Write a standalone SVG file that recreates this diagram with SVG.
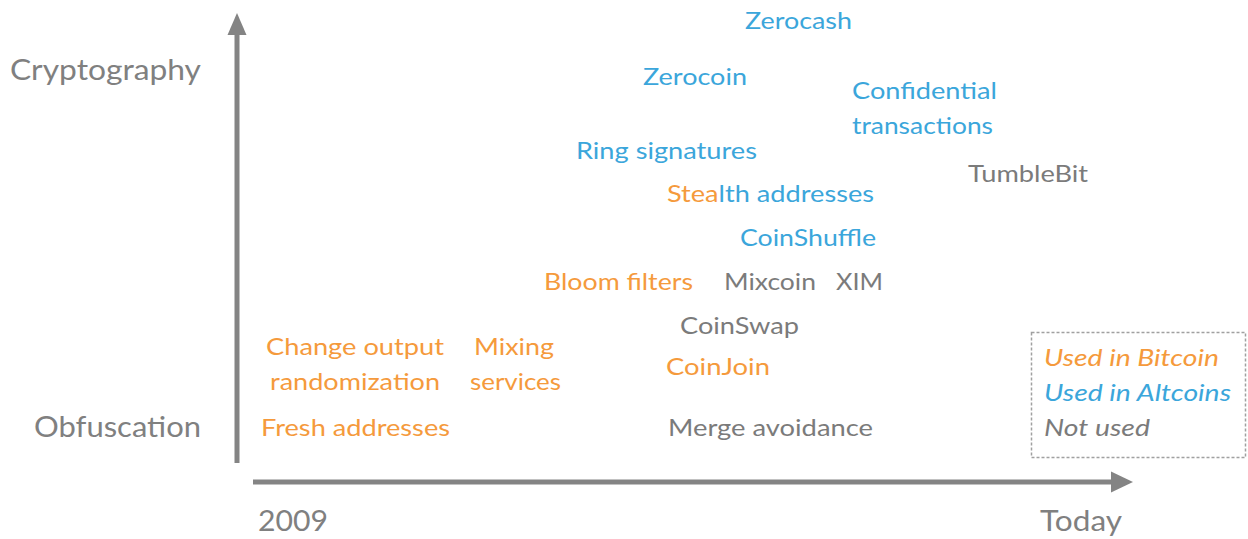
<svg xmlns="http://www.w3.org/2000/svg" width="1248" height="539" viewBox="0 0 1248 539">
<style>
text{font-family:Lato,"Noto Sans","Liberation Sans",sans-serif;font-size:24px}
.o{fill:#F59A3C}
.b{fill:#3BA6DB}
.g{fill:#7B7B7B}
.ax{fill:#808080;font-size:28px}
.lg{font-style:italic}
.axis{stroke:#848484;stroke-width:5;fill:none}
.head{fill:#848484}
</style>
<rect width="1248" height="539" fill="#fff"/>
<g id="connectors">
<line class="axis" x1="237" y1="463" x2="237" y2="30"/>
<polygon class="head" points="227.5,35 237,13 246.5,35"/>
<line class="axis" x1="253" y1="482" x2="1116" y2="482"/>
<polygon class="head" points="1111,471.5 1133,482 1111,492.5"/>
</g>
<g id="axis-labels">
<text class="ax" x="10" y="80" textLength="191" lengthAdjust="spacingAndGlyphs">Cryptography</text>
<text class="ax" x="34" y="437" textLength="167" lengthAdjust="spacingAndGlyphs">Obfuscation</text>
<text class="ax" x="258" y="531" textLength="70" lengthAdjust="spacingAndGlyphs">2009</text>
<text class="ax" x="1040" y="531" textLength="82" lengthAdjust="spacingAndGlyphs">Today</text>
</g>
<g id="zerocash"><text class="b" x="745" y="29" textLength="107" lengthAdjust="spacingAndGlyphs">Zerocash</text></g>
<g id="zerocoin"><text class="b" x="643" y="85" textLength="104" lengthAdjust="spacingAndGlyphs">Zerocoin</text></g>
<g id="confidential-transactions">
<text class="b" x="852" y="99" textLength="145" lengthAdjust="spacingAndGlyphs">Confidential</text>
<text class="b" x="852" y="134" textLength="141" lengthAdjust="spacingAndGlyphs">transactions</text>
</g>
<g id="ring-signatures"><text class="b" x="576" y="159" textLength="181" lengthAdjust="spacingAndGlyphs">Ring signatures</text></g>
<g id="tumblebit"><text class="g" x="968" y="182" textLength="120" lengthAdjust="spacingAndGlyphs">TumbleBit</text></g>
<g id="stealth-addresses"><text x="667" y="202" textLength="207" lengthAdjust="spacingAndGlyphs"><tspan class="o">Stea</tspan><tspan class="b">lth addresses</tspan></text></g>
<g id="coinshuffle"><text class="b" x="740" y="246" textLength="136" lengthAdjust="spacingAndGlyphs">CoinShuffle</text></g>
<g id="bloom-filters"><text class="o" x="544" y="290" textLength="149" lengthAdjust="spacingAndGlyphs">Bloom filters</text></g>
<g id="mixcoin"><text class="g" x="724" y="290" textLength="92" lengthAdjust="spacingAndGlyphs">Mixcoin</text></g>
<g id="xim"><text class="g" x="836" y="290" textLength="47" lengthAdjust="spacingAndGlyphs">XIM</text></g>
<g id="coinswap"><text class="g" x="680" y="334" textLength="119" lengthAdjust="spacingAndGlyphs">CoinSwap</text></g>
<g id="change-output-randomization">
<text class="o" x="266" y="355" textLength="178" lengthAdjust="spacingAndGlyphs">Change output</text>
<text class="o" x="270" y="390" textLength="170" lengthAdjust="spacingAndGlyphs">randomization</text>
</g>
<g id="mixing-services">
<text class="o" x="474" y="355" textLength="80" lengthAdjust="spacingAndGlyphs">Mixing</text>
<text class="o" x="470" y="390" textLength="91" lengthAdjust="spacingAndGlyphs">services</text>
</g>
<g id="coinjoin"><text class="o" x="666" y="375" textLength="104" lengthAdjust="spacingAndGlyphs">CoinJoin</text></g>
<g id="fresh-addresses"><text class="o" x="261" y="436" textLength="189" lengthAdjust="spacingAndGlyphs">Fresh addresses</text></g>
<g id="merge-avoidance"><text class="g" x="668" y="436" textLength="205" lengthAdjust="spacingAndGlyphs">Merge avoidance</text></g>
<g id="legend">
<rect x="1031.5" y="332.5" width="214" height="125" fill="none" stroke="#A0A0A0" stroke-width="1.5" stroke-dasharray="3 2"/>
<text class="o lg" x="1044" y="366" textLength="175" lengthAdjust="spacingAndGlyphs">Used in Bitcoin</text>
<text class="b lg" x="1044" y="401" textLength="187" lengthAdjust="spacingAndGlyphs">Used in Altcoins</text>
<text class="g lg" x="1044" y="436" textLength="106" lengthAdjust="spacingAndGlyphs">Not used</text>
</g>
</svg>
